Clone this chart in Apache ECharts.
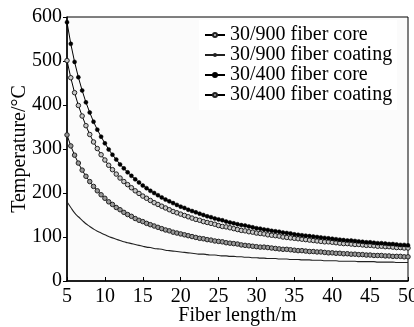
<!DOCTYPE html>
<html>
<head>
<meta charset="utf-8">
<script src="https://cdn.jsdelivr.net/npm/echarts@6/dist/echarts.min.js"></script>
<style>
html,body{margin:0;padding:0;background:#fff;}
#chart{width:414px;height:327px;}
</style>
</head>
<body>
<div id="chart"></div>
<script>
// Fiber length (m), 0.5 m steps from 5 to 50
const lengths = [5,5.5,6,6.5,7,7.5,8,8.5,9,9.5,10,10.5,11,11.5,12,12.5,13,13.5,14,14.5,15,15.5,16,16.5,17,17.5,18,18.5,19,19.5,20,20.5,21,21.5,22,22.5,23,23.5,24,24.5,25,25.5,26,26.5,27,27.5,28,28.5,29,29.5,30,30.5,31,31.5,32,32.5,33,33.5,34,34.5,35,35.5,36,36.5,37,37.5,38,38.5,39,39.5,40,40.5,41,41.5,42,42.5,43,43.5,44,44.5,45,45.5,46,46.5,47,47.5,48,48.5,49,49.5,50];

const core900 = [501,462,428,399,375,353,333,316,301,287,275,263,253,243,234,226,219,212,205,199,193,188,183,178,174,170,166,162,158,155,152,149,146,143,140,138,135,133,131,129,126,124,123,121,119,117,115,114,112,111,109,108,107,105,104,103,102,100,99,98,97,96,95,94,93,92,91,90,89,89,88,87,86,85,85,84,83,83,82,81,81,80,79,79,78,78,77,76,76,75,75];

const coat900 = [180,167,155,146,138,130,124,118,113,109,105,101,98,95,92,89,87,85,83,81,79,77,76,74,73,72,70,69,68,67,66,65,64,63,62,61,61,60,59,59,58,57,57,56,56,55,55,54,54,53,53,52,52,51,51,51,50,50,50,49,49,49,48,48,48,47,47,47,46,46,46,46,45,45,45,45,45,44,44,44,44,44,43,43,43,43,43,42,42,42,42];

const core400 = [588,539,498,463,433,406,383,362,344,328,313,299,287,276,265,256,247,239,231,224,217,211,205,200,195,190,185,181,177,173,169,166,162,159,156,153,150,147,145,142,140,138,135,133,131,129,127,126,124,122,120,119,117,116,114,113,112,110,109,108,106,105,104,103,102,101,100,99,98,97,96,95,94,93,92,92,91,90,89,88,88,87,86,86,85,84,84,83,82,82,81];

const coat400 = [332,307,286,268,252,238,226,215,205,196,188,180,174,167,162,156,151,147,142,138,135,131,128,125,122,119,116,114,111,109,107,105,103,101,99,97,96,94,93,91,90,89,87,86,85,84,82,81,80,79,78,77,77,76,75,74,73,72,72,71,70,69,69,68,67,67,66,66,65,64,64,63,63,62,62,61,61,60,60,59,59,58,58,58,57,57,56,56,56,55,55];

const xTicks = [5,10,15,20,25,30,35,40,45,50];
const yTicks = [0,100,200,300,400,500,600];
const seriesNames = ['30/900 fiber core','30/900 fiber coating','30/400 fiber core','30/400 fiber coating'];

const pairs = vals => lengths.map((x,i)=>[x, vals[i]]);
const FONT = "'Liberation Serif','Times New Roman',serif";

const chart = echarts.init(document.getElementById('chart'), null, {renderer:'canvas'});
chart.setOption({
  animation:false,
  backgroundColor:'#fff',
  textStyle:{fontFamily:FONT,color:'#000'},
  grid:{left:67,right:6,top:17,bottom:46,outerBoundsMode:'none',containLabel:false,
    show:true,borderColor:'#000',borderWidth:1,backgroundColor:'#fbfbfb'},
  legend:{
    orient:'vertical', left:199, top:20, itemGap:0, itemWidth:20, itemHeight:5,
    backgroundColor:'#fff',
    textStyle:{fontFamily:FONT,fontSize:20,color:'#000'},
    data:seriesNames
  },
  xAxis:{
    type:'value', min:xTicks[0], max:xTicks[xTicks.length-1], interval:5,
    name:'Fiber length/m', nameLocation:'middle', nameGap:25, nameMoveOverlap:false,
    nameTextStyle:{fontFamily:FONT,fontSize:20,color:'#000'},
    axisLine:{show:true,onZero:false,lineStyle:{color:'#000',width:1.5}},
    axisTick:{show:true,inside:true,length:4,lineStyle:{color:'#000',width:1}},
    axisLabel:{fontFamily:FONT,fontSize:20,color:'#000',margin:6},
    splitLine:{show:false}
  },
  yAxis:{
    type:'value', min:yTicks[0], max:yTicks[yTicks.length-1], interval:100,
    name:'Temperature/°C', nameLocation:'middle', nameGap:37, nameMoveOverlap:false,
    nameTextStyle:{fontFamily:FONT,fontSize:20,color:'#000'},
    axisLine:{show:true,lineStyle:{color:'#000',width:1.5}},
    axisTick:{show:true,inside:false,length:4,lineStyle:{color:'#000',width:1}},
    axisLabel:{fontFamily:FONT,fontSize:20,color:'#000',margin:5},
    splitLine:{show:false}
  },
  series:[
    {name:seriesNames[0],type:'line',data:pairs(core900),symbol:'circle',symbolSize:4.5,showAllSymbol:true,
      lineStyle:{color:'#000',width:1},itemStyle:{color:'#c8c8c8',borderColor:'#222',borderWidth:1}},
    {name:seriesNames[1],type:'line',data:pairs(coat900),smooth:true,showSymbol:false,symbol:'none',
      lineStyle:{color:'#222',width:1.1},itemStyle:{color:'#222'}},
    {name:seriesNames[2],type:'line',data:pairs(core400),symbol:'circle',symbolSize:4,showAllSymbol:true,
      lineStyle:{color:'#000',width:1},itemStyle:{color:'#000',borderColor:'#000',borderWidth:0.5}},
    {name:seriesNames[3],type:'line',data:pairs(coat400),symbol:'circle',symbolSize:4.5,showAllSymbol:true,
      lineStyle:{color:'#000',width:1},itemStyle:{color:'#999',borderColor:'#222',borderWidth:1}}
  ]
});
</script>
</body>
</html>
